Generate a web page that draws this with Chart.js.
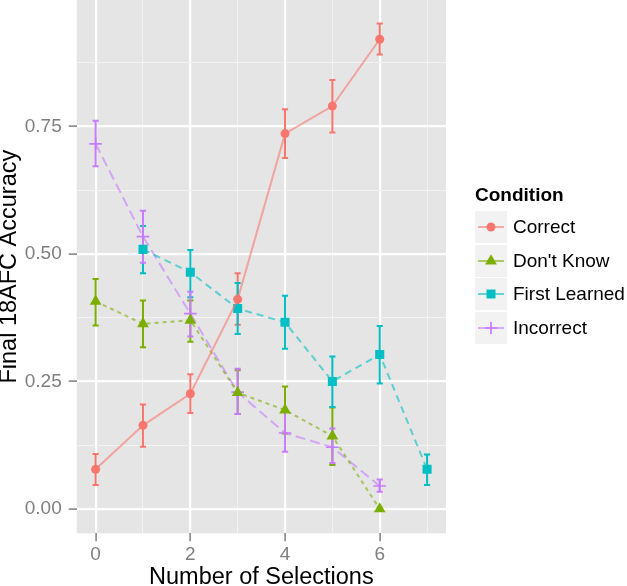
<!DOCTYPE html>
<html>
<head>
<meta charset="utf-8">
<script src="https://cdn.jsdelivr.net/npm/chart.js@4.4.0/dist/chart.umd.min.js"></script>
<style>
    body { margin: 0; background: #fff; }
    #wrap { position: relative; width: 627px; height: 586px; }
    #legend { position: absolute; left: 475px; top: 185px; font-family: "Liberation Sans", Arial, sans-serif; color: #000; }
    #legend .title { font-weight: bold; font-size: 19px; line-height: 20px; margin-bottom: 6px; }
    #legend .row { display: flex; align-items: center; height: 32px; margin-bottom: 1.7px; }
    #legend .key { width: 32px; height: 32px; background: #F2F2F2; margin-right: 6px; }
    #legend .label { font-size: 19px; }
</style>
</head>
<body>
<div id="wrap">
    <canvas id="myChart" width="627" height="586"></canvas>
    <div id="legend"></div>
</div>
<script>
const selections = [0, 1, 2, 3, 4, 5, 6, 7]
const conditions = ['Correct', "Don't Know", 'First Learned', 'Incorrect']
const colors = ['#F8766D', '#7CAE00', '#00BFC4', '#C77CFF']
const lineColors = ['rgba(248,118,109,0.6)', 'rgba(124,174,0,0.6)', 'rgba(0,191,196,0.6)', 'rgba(199,124,255,0.6)']

// mean accuracy per number of selections (null = no data)
const correctMean = [0.078, 0.164, 0.226, 0.411, 0.736, 0.790, 0.921, null]
const correctLow  = [0.047, 0.122, 0.188, 0.361, 0.688, 0.738, 0.891, null]
const correctHigh = [0.108, 0.205, 0.264, 0.462, 0.784, 0.841, 0.952, null]

const dontKnowMean = [0.407, 0.363, 0.370, 0.228, 0.194, 0.143, 0.000, null]
const dontKnowLow  = [0.360, 0.317, 0.328, 0.186, 0.148, 0.086, 0.000, null]
const dontKnowHigh = [0.451, 0.409, 0.409, 0.272, 0.240, 0.199, 0.000, null]

const firstLearnedMean = [null, 0.509, 0.464, 0.393, 0.366, 0.250, 0.303, 0.078]
const firstLearnedLow  = [null, 0.462, 0.415, 0.343, 0.314, 0.200, 0.246, 0.047]
const firstLearnedHigh = [null, 0.555, 0.508, 0.443, 0.418, 0.299, 0.359, 0.107]

const incorrectMean = [0.716, 0.534, 0.383, 0.229, 0.149, 0.121, 0.045, null]
const incorrectLow  = [0.672, 0.483, 0.338, 0.186, 0.112, 0.090, 0.034, null]
const incorrectHigh = [0.761, 0.585, 0.426, 0.275, 0.190, 0.158, 0.058, null]

const xMajorTicks = [0, 2, 4, 6]
const xMinorTicks = [1, 3, 5, 7]
const yMajorTicks = [0, 0.25, 0.5, 0.75]
const yMinorTicks = [0.125, 0.375, 0.625, 0.875]
const yTickLabels = ['0.00', '0.25', '0.50', '0.75']

const pointStyles = ['circle', 'triangle', 'rect', 'cross']
const pointRadius = [4.5, 6.8, 6.4, 6.3]
const dashes = [[], [4, 4], [7, 5], [10, 5]]

function toPoints(values) {
    return selections.map((x, i) => ({x: x, y: values[i]})).filter(p => p.y !== null)
}

const means = [correctMean, dontKnowMean, firstLearnedMean, incorrectMean]
const lows = [correctLow, dontKnowLow, firstLearnedLow, incorrectLow]
const highs = [correctHigh, dontKnowHigh, firstLearnedHigh, incorrectHigh]

const datasets = conditions.map((name, k) => ({
    label: name,
    data: toPoints(means[k]),
    errLow: lows[k],
    errHigh: highs[k],
    borderColor: lineColors[k],
    borderWidth: 2,
    borderDash: dashes[k],
    pointStyle: pointStyles[k],
    pointRadius: pointRadius[k],
    pointBackgroundColor: colors[k],
    pointBorderColor: colors[k],
    pointBorderWidth: k === 3 ? 1.7 : 0,
    showLine: true,
    fill: false,
    tension: 0
}))

const panelBg = {
    id: 'panelBg',
    beforeDraw(chart) {
        const {ctx, chartArea: a} = chart
        ctx.save()
        ctx.fillStyle = '#E5E5E5'
        ctx.fillRect(a.left, a.top, a.right - a.left, a.bottom - a.top)
        ctx.restore()
    }
}

const errorBars = {
    id: 'errorBars',
    beforeDatasetsDraw(chart) {
        const {ctx, scales: {x, y}} = chart
        chart.data.datasets.forEach((ds, k) => {
            ctx.save()
            ctx.strokeStyle = colors[k]
            ctx.lineWidth = 2
            selections.forEach((sel, i) => {
                const lo = ds.errLow[i], hi = ds.errHigh[i]
                if (lo === null || hi === null || lo === hi) return
                const px = x.getPixelForValue(sel)
                const half = x.getPixelForValue(sel + 0.065) - px
                const yl = y.getPixelForValue(lo), yh = y.getPixelForValue(hi)
                ctx.beginPath()
                ctx.moveTo(px, yl); ctx.lineTo(px, yh)
                ctx.moveTo(px - half, yl); ctx.lineTo(px + half, yl)
                ctx.moveTo(px - half, yh); ctx.lineTo(px + half, yh)
                ctx.stroke()
            })
            ctx.restore()
        })
    }
}

const tickFont = {family: '"Liberation Sans", Arial, sans-serif', size: 19}
const titleFont = {family: '"Liberation Sans", Arial, sans-serif', size: 23.5}

const ctx = document.getElementById('myChart').getContext('2d')
const myChart = new Chart(ctx, {
    type: 'scatter',
    data: {datasets: datasets},
    options: {
        responsive: false,
        animation: false,
        layout: {autoPadding: false, padding: {left: 0, top: 0, right: 181, bottom: 0}},
        plugins: {legend: {display: false}, tooltip: {enabled: false}},
        scales: {
            x: {
                type: 'linear',
                min: -0.4,
                max: 7.4,
                afterBuildTicks: s => { s.ticks = xMajorTicks.concat(xMinorTicks).sort((a, b) => a - b).map(v => ({value: v})) },
                afterFit: s => { s.height = 52.7; s.paddingLeft = 0; s.paddingRight = 0 },
                border: {display: false},
                grid: {
                    color: c => xMajorTicks.includes(c.tick.value) ? '#FFFFFF' : '#F2F2F2',
                    lineWidth: c => xMajorTicks.includes(c.tick.value) ? 2.2 : 1,
                    tickColor: c => xMajorTicks.includes(c.tick.value) ? '#7F7F7F' : 'rgba(0,0,0,0)',
                    tickLength: 8,
                    tickWidth: 1.5
                },
                ticks: {
                    autoSkip: false,
                    maxRotation: 0,
                    padding: 2,
                    color: '#7F7F7F',
                    font: tickFont,
                    callback: v => xMajorTicks.includes(v) ? String(v) : ''
                },
                title: {display: true, text: 'Number of Selections', color: '#000', font: Object.assign({lineHeight: 0.7}, titleFont), padding: 0}
            },
            y: {
                type: 'linear',
                min: -0.0477,
                max: 0.998,
                afterBuildTicks: s => { s.ticks = yMajorTicks.concat(yMinorTicks).sort((a, b) => a - b).map(v => ({value: v})) },
                afterFit: s => { s.width = 76.7; s.paddingTop = 0; s.paddingBottom = 0 },
                border: {display: false},
                grid: {
                    color: c => yMajorTicks.includes(c.tick.value) ? '#FFFFFF' : '#F2F2F2',
                    lineWidth: c => yMajorTicks.includes(c.tick.value) ? 2.2 : 1,
                    tickColor: c => yMajorTicks.includes(c.tick.value) ? '#7F7F7F' : 'rgba(0,0,0,0)',
                    tickLength: 8,
                    tickWidth: 1.5
                },
                ticks: {
                    autoSkip: false,
                    padding: 7,
                    color: '#7F7F7F',
                    font: tickFont,
                    callback: v => {
                        const i = yMajorTicks.indexOf(v)
                        return i >= 0 ? yTickLabels[i] : ''
                    }
                },
                title: {display: true, text: 'Final 18AFC Accuracy', color: '#000', font: Object.assign({lineHeight: 0.8}, titleFont), padding: 0}
            }
        }
    },
    plugins: [panelBg, errorBars]
})

// legend built as html, keys drawn in svg
function keySvg(k) {
    let mark = ''
    const c = colors[k]
    if (pointStyles[k] === 'circle') mark = `<circle cx="16" cy="16" r="4.5" fill="${c}"/>`
    if (pointStyles[k] === 'triangle') mark = `<polygon points="16,9.2 21.9,19.4 10.1,19.4" fill="${c}"/>`
    if (pointStyles[k] === 'rect') mark = `<rect x="11.5" y="11.5" width="9" height="9" fill="${c}"/>`
    if (pointStyles[k] === 'cross') mark = `<path d="M9.7 16H22.3M16 9.7V22.3" stroke="${c}" stroke-width="1.7"/>`
    return `<svg width="32" height="32"><line x1="3" y1="16" x2="29" y2="16" stroke="${lineColors[k]}" stroke-width="2"/>${mark}</svg>`
}

const legend = document.getElementById('legend')
legend.innerHTML = '<div class="title">Condition</div>' + conditions.map((name, k) =>
    `<div class="row"><div class="key">${keySvg(k)}</div><div class="label">${name}</div></div>`
).join('')
</script>
</body>
</html>
